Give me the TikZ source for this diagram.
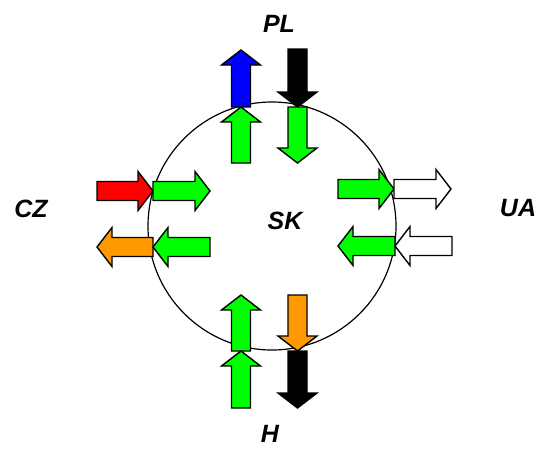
\documentclass[tikz,border=0pt]{standalone}
\usepackage{fontspec}
\setmainfont{Liberation Sans}
\definecolor{agreen}{HTML}{00FF00}
\definecolor{ablue}{HTML}{0000FF}
\definecolor{ared}{HTML}{FF0000}
\definecolor{aorange}{HTML}{FF9900}
\newcommand{\farrow}[4]{%
  \draw[arrowbox, fill=#1, shift={#2}, rotate=#3]
    (0,-9.5) -- ({#4-15},-9.5) -- ({#4-15},-19.5) -- (#4,0) --
    ({#4-15},19.5) -- ({#4-15},9.5) -- (0,9.5) -- cycle;}
\begin{document}
\begin{tikzpicture}[x=1pt,y=-1pt,
  arrowbox/.style={draw=black, line width=1.4pt, line join=miter},
  lbl/.style={font=\bfseries\itshape\fontsize{25}{30}\selectfont, inner sep=0pt}]
\useasboundingbox (0,0) rectangle (541,448);
\draw[line width=1.2pt] (272,226) circle[radius=124];
% top
\farrow{ablue}{(241,107)}{90}{57}
\farrow{agreen}{(241,163)}{90}{56}
\farrow{black}{(297.5,49)}{-90}{58}
\farrow{agreen}{(297.5,107)}{-90}{56}
% left
\farrow{ared}{(97,191)}{0}{56}
\farrow{agreen}{(153,191)}{0}{57}
\farrow{aorange}{(153,247)}{180}{56}
\farrow{agreen}{(210,247)}{180}{57}
% right
\farrow{agreen}{(338,189)}{0}{56}
\farrow{white}{(394,189)}{0}{57}
\farrow{agreen}{(395,246)}{180}{57}
\farrow{white}{(452,246)}{180}{57}
% bottom
\farrow{agreen}{(241,351)}{90}{56}
\farrow{agreen}{(241,408)}{90}{57}
\farrow{aorange}{(297.5,295)}{-90}{56}
\farrow{black}{(297.5,351)}{-90}{57}
% labels
\node[lbl] (pl) at (279,24) {PL};
\node[lbl] (cz) at (31,209) {CZ};
\node[lbl] (sk) at (285,221) {SK};
\node[lbl] (ua) at (518,208) {UA};
\node[lbl] (h) at (270,434) {H};
\end{tikzpicture}
\end{document}
